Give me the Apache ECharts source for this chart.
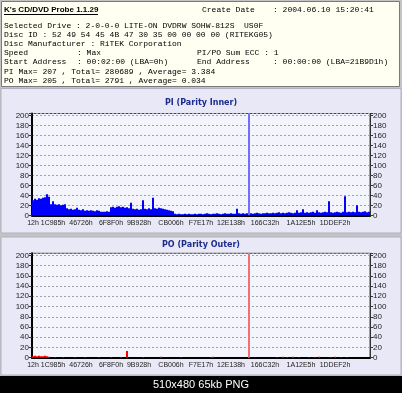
<!DOCTYPE html>
<html><head><meta charset="utf-8">
<script src="https://cdn.jsdelivr.net/npm/echarts@6/dist/echarts.min.js"></script>
<style>html,body{margin:0;padding:0;background:#c8c8c8}#c{width:402px;height:393px}</style>
</head><body><div id="c"></div>
<script>
// ---- data ----
const xTickIndex = [0, 10, 24, 39, 53, 69, 84, 99, 116, 134, 151];
const xTickLabels = ['12h','1C985h','46726h','6F8F0h','9B928h','CB006h','F7E17h','12E138h','166C32h','1A12E5h','1DDEF2h'];
const yTicks = [0,20,40,60,80,100,120,140,160,180,200];
const piValues = [
 30,33,31,34,33,35,36,42,37,22,
 28,22,21,22,20,21,22,14,12,13,
 11,12,15,11,10,12,9,10,9,10,
 9,8,10,9,7,7,7,8,7,16,
 17,15,17,18,16,17,15,16,14,25,
 13,12,13,11,12,30,13,12,14,12,
 35,14,13,15,14,13,12,11,10,9,
 8,3,2,3,2,2,3,2,3,2,
 2,3,2,3,3,2,3,4,3,2,
 3,3,4,3,2,3,4,3,3,4,
 3,3,13,4,3,4,3,4,207,4,
 3,4,5,4,3,4,4,5,4,4,
 5,4,5,6,4,5,4,5,6,5,
 4,5,10,5,6,12,5,6,5,6,
 7,5,10,6,5,6,7,6,28,6,
 5,6,7,6,5,7,38,6,7,6,
 7,6,20,7,6,7,8,6,7
];
const poValues = [
 3,4,3,4,3,3,4,3,2,0,
 0,1,0,0,0,1,0,0,0,0,
 0,1,0,0,0,0,1,0,0,0,
 0,0,0,1,0,0,0,0,0,1,
 0,0,0,0,1,0,0,13,0,0,
 0,0,0,0,0,1,0,0,0,0,
 0,0,0,0,2,0,0,0,0,0,
 0,0,0,0,1,0,0,0,0,0,
 0,0,0,0,0,0,0,0,0,1,
 2,0,0,0,0,0,0,0,0,0,
 0,0,0,0,0,0,0,0,205,0,
 0,0,0,0,0,0,0,0,0,0,
 0,0,1,0,0,2,0,1,0,0,
 2,0,0,1,0,0,0,0,1,0,
 0,1,0,2,0,0,0,0,0,1,
 0,2,0,0,1,0,0,1,0,0,
 0,0,0,0,0,0,0,0,0
];
const headerTitle = "K's CD/DVD Probe 1.1.29";
const headerLeft = [
 'Selected Drive : 2-0-0-0 LITE-ON DVDRW SOHW-812S  US0F',
 'Disc ID : 52 49 54 45 4B 47 30 35 00 00 00 00 (RITEKG05)',
 'Disc Manufacturer : RiTEK Corporation',
 'Speed',
 'Start Address',
 'PI Max= 207 , Total= 280689 , Average= 3.384',
 'PO Max= 205 , Total= 2791 , Average= 0.034'
];
const headerLeftVal = ['', '', '', ': Max', ': 00:02:00 (LBA=0h)', '', ''];
const headerRight = ['', '', '', 'PI/PO Sum ECC : 1', 'End Address', '', ''];
const headerRightVal = ['', '', '', '', ': 00:00:00 (LBA=21B9D1h)', '', ''];
const createLabel = 'Create Date';
const createVal = ': 2004.06.10 15:20:41';
const chartTitles = ['PI (Parity Inner)', 'PO (Parity Outer)'];
const footer = '510x480 65kb PNG';

// ---- chart ----
const cats = piValues.map((_, i) => i);
const chart = echarts.init(document.getElementById('c'), null, {renderer: 'canvas', width: 402, height: 393});
const mono = '8px "Liberation Mono"';
const g = [];
g.push({type:'rect', shape:{x:0,y:0,width:402,height:393}, style:{fill:'#c4c4c4'}, z:-10});
g.push({type:'rect', shape:{x:1.5,y:1.5,width:398,height:85}, style:{fill:'#fffff2', stroke:'#7a7a7a', lineWidth:1}, z:-9});
g.push({type:'rect', shape:{x:1,y:88.5,width:400,height:144.5}, style:{fill:'#e8e8f7', stroke:'#b0b0c0', lineWidth:1}, z:-9});
g.push({type:'rect', shape:{x:1,y:237,width:400,height:138}, style:{fill:'#e8e8f7', stroke:'#b0b0c0', lineWidth:1}, z:-9});
g.push({type:'rect', shape:{x:0,y:376,width:402,height:17}, style:{fill:'#000'}, z:-8});
g.push({type:'text', style:{text:headerTitle, x:4, y:10, font:'bold 8px "Liberation Sans"', fill:'#000', textVerticalAlign:'middle'}});
g.push({type:'line', shape:{x1:4,y1:14.5,x2:98,y2:14.5}, style:{stroke:'#000', lineWidth:1}});
g.push({type:'text', style:{text:createLabel, x:202, y:10, font:mono, fill:'#000', textVerticalAlign:'middle'}});
g.push({type:'text', style:{text:createVal, x:273, y:10, font:mono, fill:'#000', textVerticalAlign:'middle'}});
headerLeft.forEach((t, i) => {
  const y = 25.5 + i * 9.2;
  g.push({type:'text', style:{text:t, x:4, y:y, font:mono, fill:'#000', textVerticalAlign:'middle'}});
  if (headerLeftVal[i]) g.push({type:'text', style:{text:headerLeftVal[i], x:77, y:y, font:mono, fill:'#000', textVerticalAlign:'middle'}});
  if (headerRight[i]) g.push({type:'text', style:{text:headerRight[i], x:197, y:y, font:mono, fill:'#000', textVerticalAlign:'middle'}});
  if (headerRightVal[i]) g.push({type:'text', style:{text:headerRightVal[i], x:273, y:y, font:mono, fill:'#000', textVerticalAlign:'middle'}});
});
g.push({type:'text', style:{text:chartTitles[0], x:201, y:103, font:'bold 8px "DejaVu Sans"', fill:'#1c2c8c', textAlign:'center', textVerticalAlign:'middle'}});
g.push({type:'text', style:{text:chartTitles[1], x:201, y:245, font:'bold 8px "DejaVu Sans"', fill:'#1c2c8c', textAlign:'center', textVerticalAlign:'middle'}});
g.push({type:'text', style:{text:footer, x:201, y:385, font:'11px "Liberation Sans"', fill:'#fff', textAlign:'center', textVerticalAlign:'middle'}});

const grids = [
  {left:32, width:338, top:113.5, height:101.8},
  {left:32, width:338, top:253.3, height:104.4}
];
const xAxes = [], yAxes = [], series = [];
[piValues, poValues].forEach((vals, gi) => {
  xAxes.push({
    type:'category', gridIndex:gi, data:cats, boundaryGap:true,
    axisLine:{show:true, lineStyle:{color:'#000', width:2}},
    axisTick:{show:false},
    axisLabel:{interval:(idx)=>xTickIndex.includes(idx), formatter:(v, idx)=>{const k = xTickIndex.indexOf(idx); return k>=0 ? xTickLabels[k] : '';}, fontSize:7, fontFamily:'Liberation Sans', color:'#222', margin:4}
  });
  ['left','right'].forEach(pos => {
    yAxes.push({
      type:'value', gridIndex:gi, position:pos, min:0, max:204, interval:20,
      axisLine:{show:true, lineStyle:{color: pos==='left' ? '#000' : '#333', width: pos==='left' ? 2 : 1}},
      axisTick:{show:true, length:3, lineStyle:{color:'#333'}},
      axisLabel:{fontSize:8, fontFamily:'Liberation Sans', color:'#222', margin:3, formatter:(v)=> yTicks.includes(v) ? String(v) : ''},
      splitLine:{show: pos==='left', lineStyle:{color:'#a0a0a8', type:[2,2], width:1}}
    });
  });
  const col = gi === 0 ? '#0000ff' : '#ff0000';
  const light = gi === 0 ? '#6f6fff' : '#f07070';
  series.push({
    type:'bar', xAxisIndex:gi, yAxisIndex:gi*2, data:vals, barCategoryGap:'0%', barGap:'0%',
    itemStyle:{color:(p)=> p.value > 100 ? light : col}, silent:true, animation:false, clip:true
  });
});
grids.forEach(gr => { gr.show = true; gr.backgroundColor = '#f4f4fc'; gr.borderColor = '#444'; gr.borderWidth = 1; });
chart.setOption({animation:false, backgroundColor:'#c4c4c4', graphic:g, grid:grids, xAxis:xAxes, yAxis:yAxes, series:series});
</script></body></html>
